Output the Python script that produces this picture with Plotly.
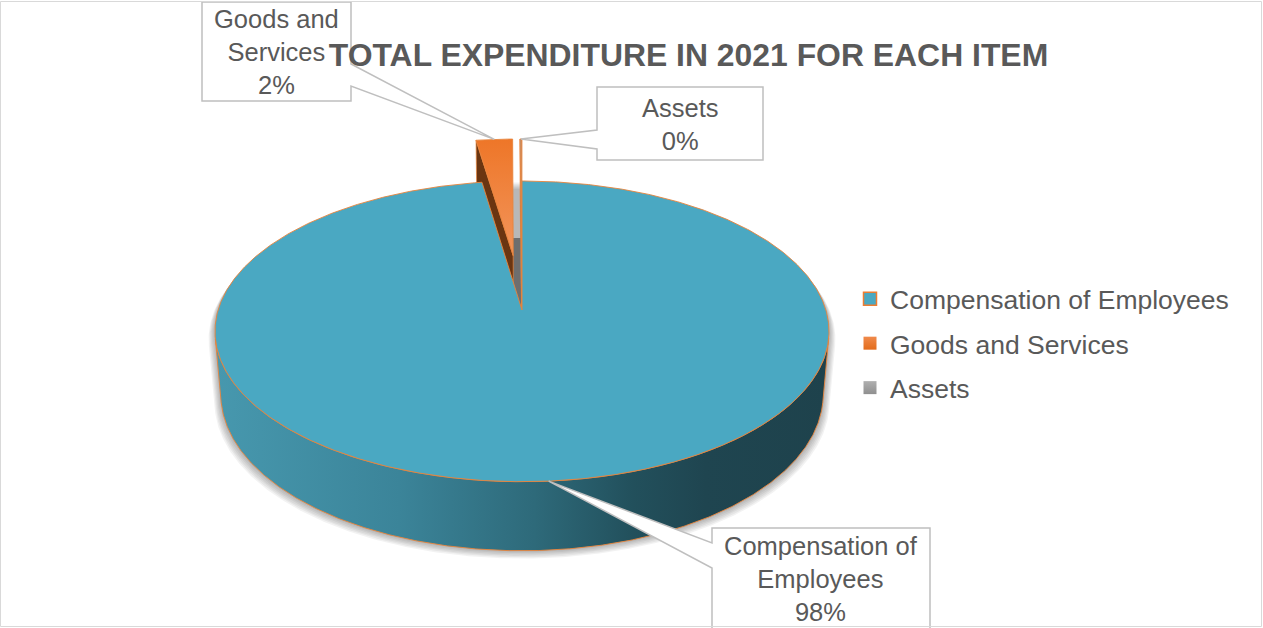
import numpy as np
import plotly.graph_objects as go

# ---------------- data ----------------
categories = ["Compensation of Employees", "Goods and Services", "Assets"]
shares = [97.6, 2.3, 0.1]  # share of total 2021 expenditure, %
title_text = "TOTAL EXPENDITURE IN 2021 FOR EACH ITEM"

# ---------------- styling ----------------
explode = [0.0, 0.39, 0.39]                      # radial pull-out, fraction of radius
top_colors = ["#4AA8C2", "#EF8240", "#A6A6A6"]
top_scales = [None,
              [[0, "#F2955C"], [1, "#EE7628"]],
              [[0, "#B5B5B5"], [1, "#959595"]]]
face_colors = ["#2F6B7B", "#6A3511", "#5F5F5F"]
side_scale = [[0, "#4798AE"], [0.3, "#3B8499"], [0.52, "#2E6A7A"],
              [0.68, "#22505C"], [0.8, "#1F4550"], [1, "#1E424C"]]
edge_color = "rgba(232,132,60,0.9)"
hole_color = "#6E6E6E"
text_color = "#595959"
FONT = "Liberation Sans, Arial, sans-serif"

# ---------------- projection of the tilted disc onto the page ----------------
W, H = 1263, 628
CX, CY = 522.0, 310.0
DIST = 6.16
FOCAL = 1872.0
TILT = np.radians(29.0)
ST, CT = np.sin(TILT), np.cos(TILT)
THICK = 0.24
CAM = np.array([0.0, DIST * ST, -DIST * CT])  # camera position (X, Y, Z)
DOWN = np.array([0.0, -THICK, 0.0])


def project(pts):
    pts = np.asarray(pts, float)
    X, Y, Z = pts[:, 0], pts[:, 1], pts[:, 2]
    w = DIST + Z * CT - Y * ST
    v = Z * ST + Y * CT
    return CX + FOCAL * X / w, CY - FOCAL * v / w


def polygon(pts, **kw):
    x, y = project(pts)
    return go.Scatter(x=np.append(x, x[0]), y=np.append(y, y[0]), mode="lines",
                      fill="toself", hoverinfo="skip", showlegend=False, **kw)


def rim(ts, off, level=0.0):
    return off + np.column_stack([np.sin(ts), np.full(len(ts), level), np.cos(ts)])


total = float(sum(shares))
bounds = np.concatenate([[0.0], np.cumsum(shares)]) / total * 2 * np.pi

slices = []
for i, name in enumerate(categories):
    t0, t1 = bounds[i], bounds[i + 1]
    tm = 0.5 * (t0 + t1)
    off = explode[i] * np.array([np.sin(tm), 0.0, np.cos(tm)])
    depth = off[2] + 0.5 * np.cos(tm) * (t1 - t0 < np.pi)
    slices.append(dict(i=i, t0=t0, t1=t1, tm=tm, off=off, depth=depth))

fig = go.Figure()

# soft drop shadow around the main disc
t_a = np.arccos(-1.0 / (DIST * CT))
t_b = 2 * np.pi - t_a
back = rim(np.linspace(t_b, 2 * np.pi + t_a, 400), np.zeros(3))
front = rim(np.linspace(t_a, t_b, 300), np.zeros(3), -THICK)
sx, sy = project(np.vstack([back, front]))
for k in range(1, 7):
    xs = CX + (sx - CX) * (1 + 0.0035 * k)
    ys = sy + 1.3 * k
    fig.add_trace(go.Scatter(x=np.append(xs, xs[0]), y=np.append(ys, ys[0]), mode="lines",
                             fill="toself", fillcolor="rgba(0,0,0,0.05)", line=dict(width=0),
                             hoverinfo="skip", showlegend=False))

# shaded floor of the gap left by the pulled-out slices
for s in slices:
    if explode[s["i"]] > 0:
        ts = np.linspace(s["t0"], s["t1"], 40)
        floor = np.vstack([DOWN, rim(ts, np.zeros(3), -THICK)])
        fig.add_trace(polygon(floor, fillcolor=hole_color, line=dict(width=0)))

# slices, farthest first
for s in sorted(slices, key=lambda d: -d["depth"]):
    i, t0, t1, off = s["i"], s["t0"], s["t1"], s["off"]
    n = max(int((t1 - t0) / (2 * np.pi) * 900), 2) + 1
    ts = np.linspace(t0, t1, n)
    top = rim(ts, off)
    bot = rim(ts, off, -THICK)

    # radial cut faces
    for t, nrm in ((t0, np.array([-np.cos(t0), 0, np.sin(t0)])),
                   (t1, np.array([np.cos(t1), 0, -np.sin(t1)]))):
        d = np.array([np.sin(t), 0, np.cos(t)])
        mid = off + 0.5 * d + 0.5 * DOWN
        if np.dot(CAM - mid, nrm) > 0:
            quad = np.vstack([off, off + d, off + d + DOWN, off + DOWN])
            fig.add_trace(polygon(quad, fillcolor=face_colors[i],
                                  line=dict(color=edge_color, width=0.8)))

    # outer curved side, front-facing part only
    nrms = np.column_stack([np.sin(ts), np.zeros(n), np.cos(ts)])
    vis = np.einsum("ij,ij->i", CAM - (top + 0.5 * DOWN), nrms) > 0
    idx = np.flatnonzero(vis)
    if idx.size > 1:
        runs = np.split(idx, np.flatnonzero(np.diff(idx) > 1) + 1)
        for r in runs:
            if r.size < 2:
                continue
            band = np.vstack([top[r], bot[r][::-1]])
            kw = dict(line=dict(color=edge_color, width=1))
            if i == 0:
                kw["fillgradient"] = dict(type="horizontal", colorscale=side_scale)
            else:
                kw["fillcolor"] = face_colors[i]
            fig.add_trace(polygon(band, **kw))

    # top face
    face = np.vstack([off, top])
    kw = dict(line=dict(color=edge_color, width=1))
    if top_scales[i] is not None:
        kw["fillgradient"] = dict(type="vertical", colorscale=top_scales[i])
    else:
        kw["fillcolor"] = top_colors[i]
    fig.add_trace(polygon(face, **kw))

# legend entries
legend_markers = [
    dict(color=top_colors[0], line=dict(color="#ED7D31", width=1.5)),
    dict(color="#F08A4B", gradient=dict(type="vertical", color="#E36C1C"), line=dict(width=0)),
    dict(color="#B0B0B0", gradient=dict(type="vertical", color="#8F8F8F"), line=dict(width=0)),
]
for name, mk in zip(categories, legend_markers):
    fig.add_trace(go.Scatter(x=[None], y=[None], mode="markers", name=name, legendgroup=name,
                             marker=dict(symbol="square", size=13, **mk)))


# data-label callouts anchored on each slice's outer edge
def anchor(s):
    p = rim(np.array([s["tm"]]), s["off"])
    x, y = project(p)
    return float(x[0]), float(y[0])


def callout(box, side, base, tip):
    x0, y0, x1, y1 = box
    b0, b1 = base
    ax, ay = tip
    if side == "right":
        path = (f"M{x0},{y0} L{x1},{y0} L{x1},{b0} L{ax},{ay} L{x1},{b1} "
                f"L{x1},{y1} L{x0},{y1} Z")
    else:
        path = (f"M{x0},{y0} L{x1},{y0} L{x1},{y1} L{x0},{y1} L{x0},{b1} "
                f"L{ax},{ay} L{x0},{b0} Z")
    return dict(type="path", path=path, xref="x", yref="y", layer="above",
                fillcolor="white", line=dict(color="#BFBFBF", width=1.5))


label_boxes = [
    dict(box=(712, 528, 930, 660), side="left", base=(543, 568), center=(821, 579)),
    dict(box=(202, 2, 351, 101), side="right", base=(64, 86), center=(276.5, 52)),
    dict(box=(597, 87, 763, 160), side="left", base=(130, 149), center=(680, 124)),
]
label_text = ["Compensation of<br>Employees", "Goods and<br>Services", "Assets"]

shapes = []
annotations = []
for s in slices:
    i = s["i"]
    lb = label_boxes[i]
    shapes.append(callout(lb["box"], lb["side"], lb["base"], anchor(s)))
    pct = round(shares[i] / total * 100)
    annotations.append(dict(x=lb["center"][0], y=lb["center"][1], xref="x", yref="y",
                            text=f"{label_text[i]}<br>{pct}%", showarrow=False,
                            xanchor="center", yanchor="middle", align="center",
                            font=dict(family=FONT, size=25.5, color=text_color)))

# chart-area border
shapes.append(dict(type="rect", xref="x", yref="y", x0=0.5, y0=1.5, x1=1261.5, y1=626.5,
                   layer="above", line=dict(color="#D9D9D9", width=1), fillcolor="rgba(0,0,0,0)"))

fig.update_layout(
    width=W, height=H,
    margin=dict(l=0, r=0, t=0, b=0),
    paper_bgcolor="white", plot_bgcolor="white",
    xaxis=dict(range=[0, W], visible=False, fixedrange=True),
    yaxis=dict(range=[H, 0], visible=False, fixedrange=True),
    title=dict(text=f"<b>{title_text}</b>", x=688.5 / W, xanchor="center",
               y=1 - 55 / H, yanchor="middle", yref="container",
               font=dict(family=FONT, size=31.9, color=text_color)),
    legend=dict(x=850 / W, y=1 - 275 / H, xanchor="left", yanchor="top",
                font=dict(family=FONT, size=26.5, color=text_color),
                tracegroupgap=7, bgcolor="rgba(0,0,0,0)", borderwidth=0),
    showlegend=True,
    shapes=shapes,
    annotations=annotations,
)

fig.write_html("out.html")
